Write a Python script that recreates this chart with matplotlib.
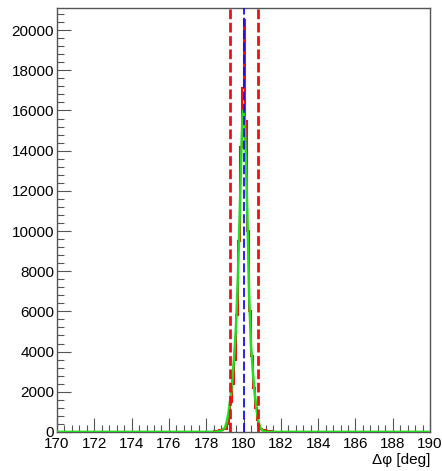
import numpy as np
import matplotlib.pyplot as plt

plt.rcParams['font.family'] = ['Liberation Sans', 'DejaVu Sans']

# histogram: 0.1 deg bins from 170 to 190, only 178-182 is non-zero
bin_width = 0.1
peak_lo = 178.0
peak_counts = [5, 10, 15, 20, 30, 40, 60, 80, 100, 120,
               150, 400, 900, 1500, 2400, 3600, 5800, 9500, 14200, 17100,
               20500, 15500, 10000, 6000, 3800, 2200, 1200, 600, 300, 150,
               100, 80, 60, 40, 30, 20, 15, 10, 5, 0]

# fitted curve
fit_x = [170.0, 178.5, 178.8, 179.0, 179.1, 179.2, 179.3, 179.4, 179.5, 179.6,
         179.7, 179.8, 179.9, 179.95, 180.0, 180.05, 180.1, 180.2, 180.3, 180.4,
         180.5, 180.6, 180.7, 180.8, 180.9, 181.0, 181.2, 190.0]
fit_y = [0, 0, 50, 200, 500, 1000, 1700, 2600, 3800, 5300,
         7800, 11000, 14500, 15800, 16000, 15600, 14500, 11000, 6800, 4300,
         3000, 1900, 1100, 500, 200, 80, 0, 0]

cut_lo, cut_mean, cut_hi = 179.25, 180.0, 180.75

edges = np.round(np.arange(170.0, 190.0 + bin_width / 2, bin_width), 2)
counts = np.zeros(len(edges) - 1)
i0 = int(round((peak_lo - 170.0) / bin_width))
counts[i0:i0 + len(peak_counts)] = peak_counts

fig = plt.figure(figsize=(4.42, 4.71), dpi=100)
ax = fig.add_axes([0.129, 0.083, 0.844, 0.900])

ax.stairs(counts, edges, color='#ee1111', lw=1.5, zorder=2)
ax.plot(fit_x, fit_y, color='#22dd22', lw=1.8, zorder=3)

ax.axvline(cut_mean, color='#1111ee', lw=1.3, dashes=(5, 1.8), zorder=4)
for xc in (cut_lo, cut_hi):
    ax.axvline(xc, color='#ee1111', lw=2.0, dashes=(3.5, 1.3), zorder=5)

ax.set_xlim(170, 190)
ax.set_ylim(0, 21100)
ax.set_xticks(np.arange(170, 191, 2))
ax.set_xticks(np.arange(170, 190.01, 0.4), minor=True)
ax.set_yticks(np.arange(0, 20001, 2000))
ax.set_yticks(np.arange(0, 21100, 400), minor=True)
ax.tick_params(which='both', direction='in', top=False, right=False,
               labelsize=11, color='#555555')
ax.tick_params(which='major', length=10, width=0.8)
ax.tick_params(which='minor', length=5, width=0.8)
ax.tick_params(axis='x', pad=4)
ax.tick_params(axis='y', pad=2)
for s in ax.spines.values():
    s.set_color('#555555')
    s.set_linewidth(1.0)

ax.set_xlabel('Δφ [deg]', fontsize=11, loc='right', labelpad=1)

plt.savefig('out.png', dpi=100)
